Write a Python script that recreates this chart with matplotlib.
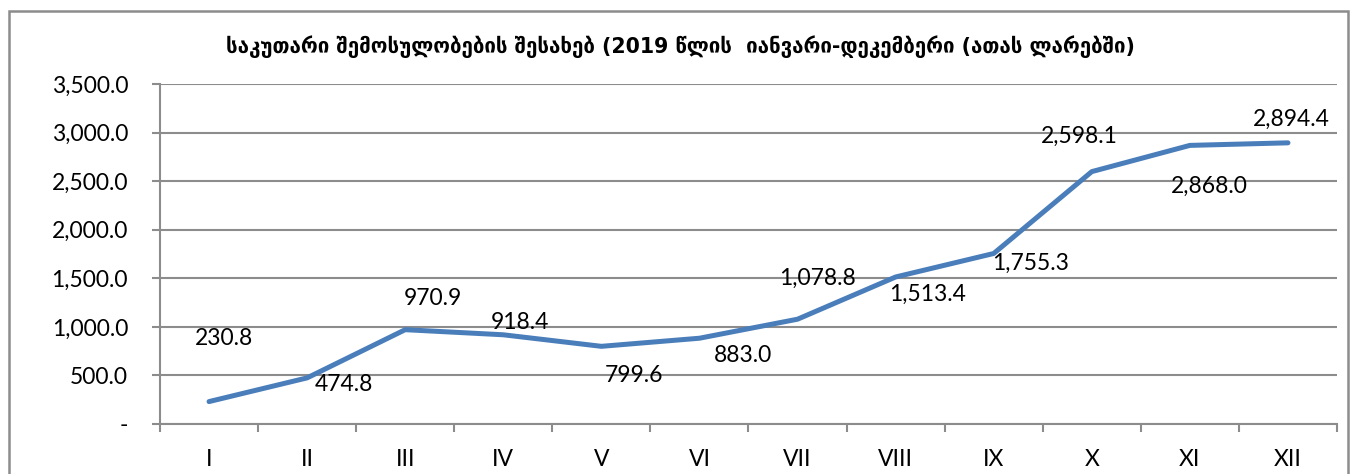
import matplotlib
matplotlib.use("Agg")
import matplotlib.pyplot as plt
from matplotlib.patches import Rectangle
from matplotlib.ticker import FixedLocator, FuncFormatter

title = "საკუთარი შემოსულობების შესახებ (2019 წლის  იანვარი-დეკემბერი (ათას ლარებში)"
months = ["I", "II", "III", "IV", "V", "VI", "VII", "VIII", "IX", "X", "XI", "XII"]
values = [230.8, 474.8, 970.9, 918.4, 799.6, 883.0, 1078.8, 1513.4, 1755.3, 2598.1, 2868.0, 2894.4]
yticks = [0, 500, 1000, 1500, 2000, 2500, 3000, 3500]
# label offsets in pixels (dx, dy up)
label_offsets = [(15, 63), (37, -7), (28, 31), (17, 12), (33, -29), (44, -17),
                 (20, 41), (32, -17), (37, -10), (-12, 35), (19, -41), (3, 23)]

W, H = 1351, 474
fig = plt.figure(figsize=(W / 100, H / 100), dpi=100)
fig.patch.set_facecolor("white")
fig.patches.append(Rectangle((9 / W, -0.1), (1348 - 9) / W, (H - 11) / H + 0.1,
                             transform=fig.transFigure, fill=False,
                             edgecolor="#8c8c8c", linewidth=1.8))

ax = fig.add_axes([160 / W, (H - 424) / H, (1337 - 160) / W, (424 - 84) / H])
ax.set_xlim(-0.5, len(months) - 0.5)
ax.set_ylim(0, 3500)

grid_c = "#8c8c8c"
for s in ["top", "right"]:
    ax.spines[s].set_visible(False)
for s in ["left", "bottom"]:
    ax.spines[s].set_color(grid_c)
    ax.spines[s].set_linewidth(1.5)

ax.yaxis.set_major_locator(FixedLocator(yticks))
ax.yaxis.set_major_formatter(FuncFormatter(lambda v, p: "-" if v == 0 else f"{v:,.1f}"))
ax.grid(axis="y", color=grid_c, linewidth=1.5)
ax.set_axisbelow(True)

ax.set_xticks(range(len(months)))
ax.set_xticklabels(months)
ax.set_xticks([i - 0.5 for i in range(len(months) + 1)], minor=True)
ax.tick_params(axis="x", which="major", length=0, pad=18)
ax.tick_params(axis="x", which="minor", length=6, width=1.5, color=grid_c, direction="out")
ax.tick_params(axis="y", length=6, width=1.5, color=grid_c, pad=17)

font = "Lato"
fs = 16.5
for lab in ax.get_xticklabels() + ax.get_yticklabels():
    lab.set_fontfamily(font)
    lab.set_fontsize(fs)

x = list(range(len(months)))
ax.plot(x, values, color="#4a7ebb", linewidth=3.6, solid_capstyle="round", solid_joinstyle="round")

for i, v in enumerate(values):
    dx, dy = label_offsets[i]
    ax.annotate(f"{v:,.1f}", (i, v), xytext=(dx, dy), textcoords="offset pixels",
                ha="center", va="center", fontsize=fs, fontfamily=font)

fig.text(680 / W, (H - 47) / H, title, ha="center", va="center",
         fontsize=14.8, fontweight="bold", fontfamily="DejaVu Sans")

fig.savefig("out.png", dpi=100)
